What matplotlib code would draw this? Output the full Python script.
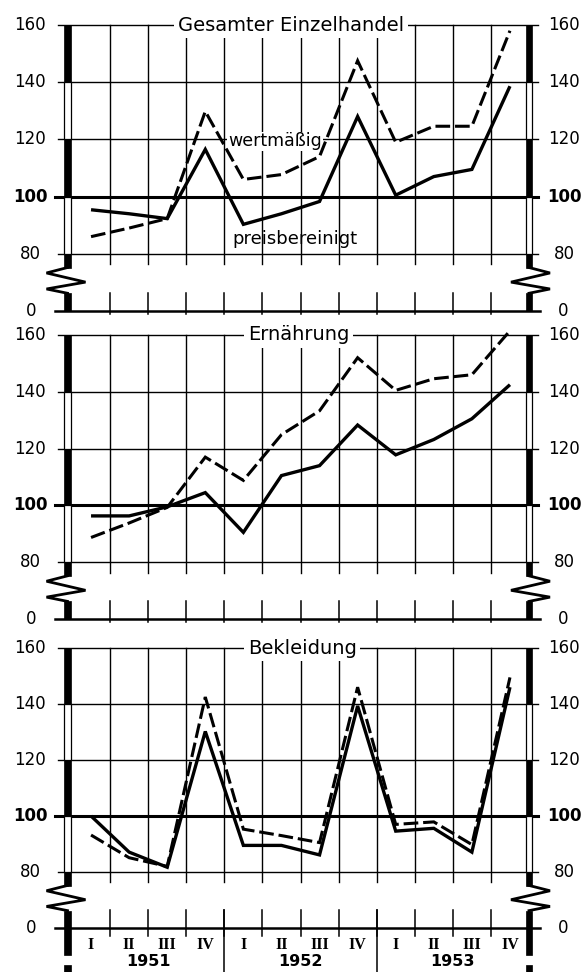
import matplotlib
matplotlib.use('Agg')
import matplotlib.pyplot as plt
from matplotlib.patches import Rectangle

# ---------------- data ----------------
quarters = ['I', 'II', 'III', 'IV'] * 3
years = ['1951', '1952', '1953']
titles = ['Gesamter Einzelhandel', 'Ernährung', 'Bekleidung']

wert_gesamt = [86, 89, 92.3, 129.8, 106, 107.7, 114, 147.5, 119, 124.6, 124.6, 158]
preis_gesamt = [95.4, 94, 92.3, 116.5, 90.3, 94, 98.3, 128, 100.5, 107, 109.5, 138.6]

wert_ernaehrung = [88.7, 93.8, 99.3, 117, 108.8, 124.9, 133.3, 152, 140.5, 144.6, 146, 161.5]
preis_ernaehrung = [96.3, 96.3, 99.5, 104.5, 90.5, 110.5, 114, 128.3, 117.8, 123.2, 130.5, 142.5]

wert_bekleidung = [93.2, 85.1, 82, 142.5, 95.3, 93, 90.5, 146, 97, 97.9, 89.8, 149.5]
preis_bekleidung = [100, 87.1, 81.7, 130.2, 89.5, 89.5, 86.1, 139.3, 94.6, 95.6, 87.1, 146]

wert_series = [wert_gesamt, wert_ernaehrung, wert_bekleidung]
preis_series = [preis_gesamt, preis_ernaehrung, preis_bekleidung]

ytick_values = [160, 140, 120, 100, 80]
zero_label = '0'
# the broken axis: value "0" is drawn at the position of 60
ZERO_POS = 60

# ---------------- layout ----------------
W, H = 585, 972
fig = plt.figure(figsize=(W / 100, H / 100), dpi=100)
plt.rcParams['font.family'] = ['DejaVu Sans']

left_px, right_px = 72, 529
tops = [25, 335, 648]
bottoms = [311, 619, 928]
title_x = [5.75, 5.95, 6.05]

xpx = (right_px - left_px) / 12.0  # pixels per quarter

for i in range(3):
    ax = fig.add_axes([left_px / W, 1 - bottoms[i] / H,
                       (right_px - left_px) / W, (bottoms[i] - tops[i]) / H])
    ax.set_xlim(0, 12)
    ax.set_ylim(ZERO_POS, 160)
    ax.axis('off')
    ypx = (bottoms[i] - tops[i]) / 100.0  # pixels per unit

    def dx(p):
        return p / xpx

    def dy(p):
        return p / ypx

    xl, xr = -dx(14), 12 + dx(9)

    # horizontal grid lines
    for v in [80, 120, 140, 160]:
        ax.plot([xl, xr], [v, v], color='black', lw=1.0, clip_on=False, zorder=2)
    ax.plot([xl - dx(3), xr], [100, 100], color='black', lw=2.2, clip_on=False, zorder=2)
    # bottom axis line
    ax.plot([-dx(17), xr + dx(2)], [ZERO_POS, ZERO_POS], color='black', lw=1.8,
            clip_on=False, zorder=2)

    brk_top = 76.3
    brk_bot = 66.4
    # vertical grid lines and short ticks
    for k in range(1, 12):
        ax.plot([k, k], [brk_top, 160], color='black', lw=1.0, clip_on=False, zorder=2)
        low = ZERO_POS - dy(3) if i < 2 else ZERO_POS - dy(8)
        ax.plot([k, k], [low, brk_bot], color='black', lw=1.1, clip_on=False, zorder=2)
    if i == 2:
        for k in [4, 8]:
            ax.plot([k, k], [ZERO_POS - dy(60), brk_bot], color='black', lw=1.1,
                    clip_on=False, zorder=2)

    # thick alternating axis bars
    for (x0, w) in [(-dx(8), dx(7)), (12 - dx(3), dx(6))]:
        filled = [(ZERO_POS, brk_bot - 0.2), (75, 80), (100, 120), (140, 160)]
        if i == 2:
            filled += [(ZERO_POS - dy(27), ZERO_POS), (ZERO_POS - dy(60), ZERO_POS - dy(37))]
        for (a, b) in filled:
            ax.add_patch(Rectangle((x0, a), w, b - a, fc='black', ec='black', lw=0.5,
                                   clip_on=False, zorder=4))
        for (a, b) in [(80, 100), (120, 140)]:
            ax.add_patch(Rectangle((x0, a), w, b - a, fc='white', ec='black', lw=0.9,
                                   clip_on=False, zorder=4))

    # break zigzags
    cl = -dx(4.5)
    ax.plot([cl, cl - dx(21), cl + dx(18), cl - dx(21), cl],
            [75.2, 73.3, 70.1, 67.7, 66.2], color='black', lw=2.0,
            clip_on=False, zorder=5, solid_joinstyle='miter')
    cr = 12.0
    ax.plot([cr, cr + dx(21), cr - dx(18), cr + dx(21), cr],
            [75.2, 73.3, 70.1, 67.7, 66.2], color='black', lw=2.0,
            clip_on=False, zorder=5, solid_joinstyle='miter')

    # tick labels
    for v in ytick_values:
        fw = 'bold' if v == 100 else 'normal'
        ax.text(-dx(42), v, str(v), ha='center', va='center', fontsize=12,
                fontweight=fw, clip_on=False)
        ax.text(12 + dx(35), v, str(v), ha='center', va='center', fontsize=12,
                fontweight=fw, clip_on=False)
    ax.text(-dx(41), ZERO_POS, zero_label, ha='center', va='center', fontsize=12)
    ax.text(12 + dx(34), ZERO_POS, zero_label, ha='center', va='center', fontsize=12)

    # title on the top line
    ax.text(title_x[i], 160, titles[i], ha='center', va='center', fontsize=14,
            bbox=dict(fc='white', ec='none', pad=2.5), zorder=6, clip_on=False)

    # data lines
    xs = [k + 0.5 for k in range(12)]
    ax.plot(xs, preis_series[i], color='black', lw=2.4, zorder=7,
            solid_joinstyle='miter', solid_capstyle='butt', clip_on=False)
    ax.plot(xs, wert_series[i], color='black', lw=2.2, dashes=(4.8, 1.6), zorder=7,
            dash_joinstyle='miter', dash_capstyle='butt', clip_on=False)

    if i == 0:
        ax.text(5.33, 119.3, 'wertmäßig', ha='center', va='center', fontsize=12.5,
                bbox=dict(fc='white', ec='none', pad=0.5), zorder=6)
        ax.text(5.86, 85.3, 'preisbereinigt', ha='center', va='center', fontsize=13,
                zorder=6)

    if i == 2:
        for k, q in enumerate(quarters):
            ax.text(k + 0.5, ZERO_POS - dy(17), q, ha='center', va='center',
                    fontsize=11.5, fontweight='bold', family='Liberation Serif',
                    clip_on=False)
        for j, yr in enumerate(years):
            ax.text(4 * j + 2, ZERO_POS - dy(41), yr, ha='center', va='bottom',
                    fontsize=11.5, fontweight='bold', clip_on=False)

fig.savefig('out.png', dpi=100)
